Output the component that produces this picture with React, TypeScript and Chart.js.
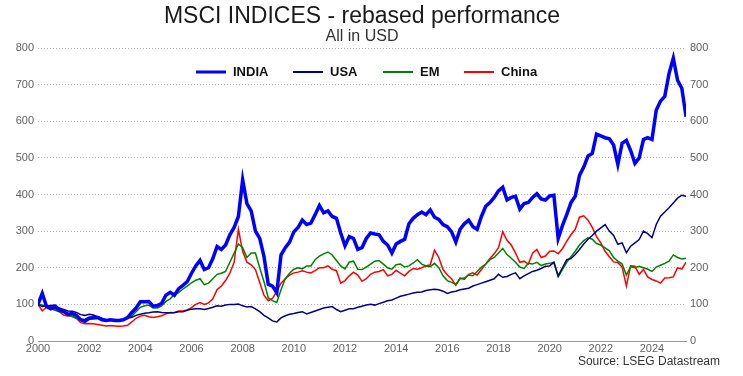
import React, { useEffect, useRef } from "react";
import { Chart, registerables } from "chart.js";

Chart.register(...registerables);

// Two-monthly observations starting January 2000 (6 per year)
const START_YEAR = 2000;
const OBS_PER_YEAR = 6;

const india = [
  100, 130, 94, 88, 94, 84, 81, 73, 75, 70, 58, 54, 62, 63, 64, 58, 56, 58, 56, 56, 58, 64, 78, 90, 107, 107, 108, 95, 97, 103, 125,
  133, 125, 143, 152, 162, 185, 205, 220, 195, 200, 225, 258, 250, 262, 290, 310, 340, 440, 375, 355, 300, 280, 231, 155, 150, 132, 235, 255, 270, 298,
  310, 330, 318, 322, 345, 370, 350, 355, 340, 335, 295, 260, 285, 280, 250, 255, 280, 295, 292, 290, 272, 262, 240, 265, 272, 278, 320, 335, 345, 352, 345,
  358, 338, 332, 318, 312, 298, 270, 305, 320, 330, 312, 305, 340, 368, 378, 392, 410, 420, 385, 392, 395, 360, 375, 378, 392, 402, 388, 385, 396, 398,
  280, 315, 345, 378, 395, 452, 475, 505, 512, 565, 560, 555, 552, 535, 482, 540, 548, 520, 485, 500, 550, 555, 550, 630, 655, 668, 730, 772, 712, 690, 612,
];

const usa = [
  100, 94, 96, 97, 98, 90, 86, 82, 81, 78, 72, 70, 73, 71, 66, 62, 56, 58, 56, 57, 58, 62, 65, 70, 73, 76, 77, 79, 80, 78, 77,
  77, 78, 80, 80, 84, 87, 88, 88, 86, 89, 92, 96, 95, 98, 100, 100, 101, 96, 93, 94, 88, 80, 70, 63, 55, 52, 63, 69, 73, 75,
  78, 80, 74, 78, 82, 86, 90, 92, 94, 86, 80, 84, 88, 88, 92, 95, 98, 100, 98, 102, 106, 110, 112, 117, 122, 125, 128, 131, 133, 134, 138,
  140, 141, 140, 136, 130, 134, 136, 140, 142, 144, 150, 154, 158, 162, 166, 170, 182, 174, 176, 182, 186, 170, 178, 184, 190, 193, 198, 204, 205, 215,
  178, 200, 222, 225, 236, 250, 265, 278, 288, 300, 309, 318, 300, 288, 264, 268, 241, 259, 268, 277, 300, 293, 282, 318, 341, 352, 364, 377, 390, 398, 395,
];

const em = [
  100, 98, 95, 88, 84, 80, 78, 70, 67, 62, 57, 60, 64, 68, 67, 61, 59, 58, 59, 58, 57, 62, 68, 80, 92, 96, 98, 90, 90, 96, 108,
  115, 127, 132, 142, 150, 159, 166, 170, 154, 158, 170, 182, 185, 190, 215, 240, 265, 255, 228, 240, 240, 200, 162, 118, 110, 105, 140, 170, 185, 196,
  200, 197, 205, 205, 222, 232, 238, 243, 235, 220, 205, 197, 215, 218, 196, 195, 202, 210, 218, 220, 210, 200, 196, 208, 210, 202, 205, 213, 222, 210, 205,
  203, 212, 200, 178, 165, 160, 155, 170, 172, 180, 178, 190, 202, 210, 222, 228, 240, 253, 236, 226, 215, 202, 198, 212, 210, 215, 206, 210, 212, 215,
  175, 195, 215, 230, 245, 262, 274, 282, 278, 266, 262, 254, 246, 228, 218, 210, 180, 203, 200, 204, 200, 196, 190, 202, 207, 212, 218, 235, 228, 224, 226,
];

const china = [
  100, 82, 92, 95, 86, 80, 71, 68, 68, 62, 50, 47, 48, 47, 45, 43, 41, 42, 41, 40, 41, 43, 52, 62, 68, 70, 66, 64, 66, 69, 74,
  78, 77, 82, 82, 85, 91, 100, 105, 100, 104, 115, 140, 150, 165, 185, 215, 305, 245, 215, 208, 195, 160, 125, 110, 116, 136, 158, 170, 180, 186,
  188, 192, 188, 186, 192, 200, 200, 205, 196, 192, 158, 165, 178, 188, 180, 163, 170, 182, 188, 190, 195, 178, 182, 193, 185, 178, 190, 198, 196, 200, 205,
  208, 248, 228, 195, 180, 170, 152, 172, 168, 182, 186, 180, 195, 210, 225, 238, 255, 298, 275, 262, 240, 215, 218, 210, 240, 250, 228, 232, 245, 246,
  238, 252, 272, 290, 305, 338, 342, 330, 310, 285, 268, 245, 230, 216, 214, 202, 150, 205, 204, 182, 195, 175, 168, 164, 158, 172, 173, 175, 200, 196, 215,
];

const xTickYears = [2000, 2002, 2004, 2006, 2008, 2010, 2012, 2014, 2016, 2018, 2020, 2022, 2024];
const yTickValues = [0, 100, 200, 300, 400, 500, 600, 700, 800];

const TITLE = "MSCI INDICES - rebased performance";
const SUBTITLE = "All in USD";
const SOURCE = "Source: LSEG Datastream";

const seriesNames = ["INDIA", "USA", "EM", "China"];
const seriesColors = ["#0000ff", "#000080", "#008000", "#ff0000"];
const seriesWidths = [3.5, 1.5, 1.5, 1.5];
const seriesValues = [india, usa, em, china];

const FONT = '"Liberation Sans", Arial, Helvetica, sans-serif';

const toPoints = (vals: number[]) =>
  vals.map((v, i) => ({ x: START_YEAR + i / OBS_PER_YEAR, y: v }));

const overlayPlugin = {
  id: "overlay",
  afterDraw(chart: any) {
    const ctx = chart.ctx as CanvasRenderingContext2D;
    ctx.save();
    ctx.textBaseline = "middle";
    ctx.textAlign = "center";
    ctx.fillStyle = "#1a1a1a";
    ctx.font = `23px ${FONT}`;
    ctx.fillText(TITLE, 362, 17);
    ctx.fillStyle = "#333";
    ctx.font = `16px ${FONT}`;
    ctx.fillText(SUBTITLE, 362, 37);

    // legend
    const legendX = [196, 293, 383, 464];
    ctx.textAlign = "left";
    ctx.font = `bold 13px ${FONT}`;
    seriesNames.forEach((name, i) => {
      const x = legendX[i];
      ctx.strokeStyle = seriesColors[i];
      ctx.lineWidth = i === 0 ? 3 : 2;
      ctx.beginPath();
      ctx.moveTo(x, 72);
      ctx.lineTo(x + 30, 72);
      ctx.stroke();
      ctx.fillStyle = "#111";
      ctx.fillText(name, x + 37, 72.5);
    });

    // source
    ctx.textAlign = "right";
    ctx.fillStyle = "#333";
    ctx.font = `12px ${FONT}`;
    ctx.fillText(SOURCE, 720, 362);
    ctx.restore();
  },
};

export default function App() {
  const canvasRef = useRef<HTMLCanvasElement | null>(null);

  useEffect(() => {
    if (!canvasRef.current) return;
    const tickFont = { family: FONT, size: 11 };
    const chart = new Chart(canvasRef.current, {
      type: "line",
      data: {
        datasets: seriesNames.map((name, i) => ({
          label: name,
          data: toPoints(seriesValues[i]),
          borderColor: seriesColors[i],
          backgroundColor: seriesColors[i],
          borderWidth: seriesWidths[i],
          pointRadius: 0,
          tension: 0,
          fill: false,
        })),
      },
      options: {
        animation: false,
        responsive: false,
        maintainAspectRatio: false,
        layout: { padding: { top: 48, left: 0, right: 0, bottom: 0 } },
        plugins: {
          legend: { display: false },
          title: { display: false },
          tooltip: { enabled: false },
        },
        scales: {
          x: {
            type: "linear",
            min: 2000,
            max: 2025.33,
            afterBuildTicks: (s: any) => {
              s.ticks = xTickYears.map((v) => ({ value: v }));
            },
            afterFit: (s: any) => {
              s.height = 35;
            },
            ticks: {
              autoSkip: false,
              maxRotation: 0,
              padding: 1,
              color: "#606060",
              font: tickFont,
              callback: (v: any) => String(v),
            },
            grid: { display: false, drawTicks: false },
            border: { display: true, color: "#999", width: 1 },
          },
          y: {
            position: "left",
            min: 0,
            max: 800,
            afterBuildTicks: (s: any) => {
              s.ticks = yTickValues.map((v) => ({ value: v }));
            },
            afterFit: (s: any) => {
              s.width = 38;
            },
            ticks: { padding: 4, color: "#606060", font: tickFont },
            grid: { color: "#b0b0b0", drawTicks: false, lineWidth: 1 },
            border: { display: false, dash: [1, 2] },
          },
          y2: {
            position: "right",
            min: 0,
            max: 800,
            afterBuildTicks: (s: any) => {
              s.ticks = yTickValues.map((v) => ({ value: v }));
            },
            afterFit: (s: any) => {
              s.width = 57;
            },
            ticks: { padding: 4, color: "#606060", font: tickFont },
            grid: { display: false, drawTicks: false },
            border: { display: false },
          },
        },
      } as any,
      plugins: [overlayPlugin],
    });
    return () => chart.destroy();
  }, []);

  return (
    <div style={{ position: "absolute", left: 0, top: 0, width: 743, height: 376, background: "#fff" }}>
      <canvas ref={canvasRef} width={743} height={376} />
    </div>
  );
}
